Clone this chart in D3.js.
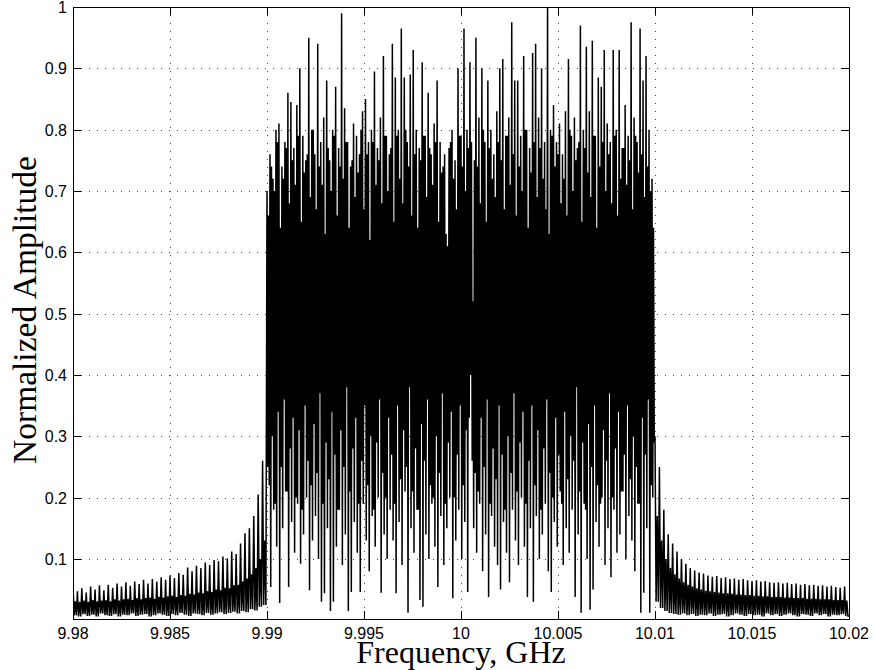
<!DOCTYPE html>
<html>
<head>
<meta charset="utf-8">
<script src="https://cdn.jsdelivr.net/npm/d3@7"></script>
<style>
  body { margin: 0; background: #fff; }
  text { fill: #000; }
</style>
</head>
<body>
<svg></svg>
<script>
// ================= DONNÉES ======================================== //
const xTicks = [9.98, 9.985, 9.99, 9.995, 10, 10.005, 10.01, 10.015, 10.02];
const xTickLabels = ["9.98", "9.985", "9.99", "9.995", "10", "10.005", "10.01", "10.015", "10.02"];
const yTicks = [0.1, 0.2, 0.3, 0.4, 0.5, 0.6, 0.7, 0.8, 0.9, 1];
const yTickLabels = ["0.1", "0.2", "0.3", "0.4", "0.5", "0.6", "0.7", "0.8", "0.9", "1"];

// bords des trois zones (GHz)
const bandEdges = [9.98, 9.99, 10.01, 10.02];

// lobes à gauche de la bande : pic, épaule, plancher par période
const leftPeaks = [0.060,0.047,0.052,0.045,0.055,0.050,0.057,0.049,0.058,0.053,
                   0.060,0.055,0.062,0.056,0.063,0.059,0.066,0.060,0.067,0.063,
                   0.070,0.066,0.073,0.069,0.077,0.074,0.086,0.080,0.089,0.085,
                   0.094,0.090,0.098,0.096,0.104,0.101,0.112,0.108,0.125,0.142,
                   0.150,0.170,0.205,0.260];
const leftShoulders = [0.031,0.030,0.032,0.030,0.033,0.031,0.032,0.033,0.031,0.034,
                       0.032,0.034,0.035,0.033,0.036,0.034,0.036,0.037,0.035,0.038,
                       0.037,0.039,0.040,0.038,0.041,0.040,0.043,0.042,0.045,0.044,
                       0.047,0.046,0.050,0.049,0.053,0.052,0.057,0.058,0.063,0.068,
                       0.075,0.085,0.100,0.130];
const leftFloors = [0.008,0.006,0.010,0.007,0.009,0.006,0.011,0.008,0.007,0.010,
                    0.006,0.009,0.008,0.011,0.007,0.009,0.010,0.006,0.008,0.011,
                    0.009,0.007,0.010,0.008,0.012,0.009,0.007,0.011,0.010,0.008,
                    0.012,0.009,0.011,0.013,0.010,0.012,0.014,0.011,0.015,0.013,
                    0.018,0.016,0.022,0.025];

// bande principale : pic, creux, sommet du massif, bas du massif par période
const bandHi = [0.70,0.76,0.72,0.80,0.81,0.74,0.78,0.86,0.845,0.77,
                0.84,0.90,0.79,0.75,0.95,0.80,0.76,0.94,0.78,0.82,
                0.88,0.75,0.80,0.87,0.77,0.99,0.835,0.78,0.74,0.81,
                0.79,0.76,0.83,0.85,0.78,0.80,0.895,0.77,0.82,0.92,
                0.79,0.76,0.94,0.885,0.80,0.965,0.885,0.78,0.89,0.93,
                0.80,0.77,0.91,0.79,0.86,0.76,0.81,0.88,0.78,0.74,
                0.63,0.77,0.80,0.75,0.90,0.79,0.965,0.80,0.91,0.52,
                0.95,0.82,0.90,0.78,0.88,0.80,0.76,0.83,0.90,0.915,
                0.79,0.82,0.975,0.88,0.88,0.79,0.92,0.80,0.77,0.925,
                0.94,0.82,0.90,0.78,1.00,0.80,0.84,0.78,0.81,0.76,
                0.83,0.915,0.79,0.82,0.77,0.97,0.80,0.935,0.83,0.945,
                0.79,0.885,0.87,0.93,0.81,0.78,0.93,0.80,0.93,0.77,
                0.84,0.79,0.975,0.82,0.78,0.965,0.88,0.92,0.80,0.72];
const bandLo = [0.25,0.054,0.18,0.12,0.028,0.15,0.21,0.054,0.16,0.11,
                0.19,0.092,0.14,0.20,0.049,0.13,0.17,0.10,0.030,0.044,
                0.15,0.015,0.030,0.12,0.18,0.09,0.14,0.015,0.046,0.16,
                0.11,0.046,0.19,0.13,0.08,0.17,0.12,0.20,0.045,0.14,
                0.10,0.18,0.13,0.044,0.16,0.09,0.21,0.012,0.15,0.11,
                0.18,0.033,0.022,0.14,0.10,0.19,0.12,0.054,0.17,0.09,
                0.15,0.20,0.036,0.13,0.18,0.10,0.16,0.046,0.40,0.15,
                0.11,0.19,0.08,0.14,0.038,0.17,0.12,0.09,0.05,0.16,
                0.11,0.062,0.18,0.13,0.09,0.20,0.12,0.038,0.15,0.030,
                0.17,0.10,0.14,0.19,0.08,0.046,0.16,0.12,0.21,0.09,
                0.15,0.11,0.18,0.038,0.14,0.012,0.19,0.10,0.017,0.05,
                0.16,0.12,0.20,0.09,0.15,0.07,0.18,0.11,0.14,0.21,
                0.10,0.17,0.13,0.08,0.19,0.012,0.045,0.15,0.012,0.20];
const bandMid = [0.66,0.74,0.70,0.78,0.64,0.72,0.77,0.68,0.75,0.71,
                 0.79,0.65,0.73,0.76,0.69,0.80,0.67,0.74,0.71,0.63,
                 0.77,0.70,0.79,0.66,0.74,0.72,0.78,0.64,0.75,0.69,
                 0.73,0.80,0.67,0.76,0.62,0.78,0.71,0.75,0.68,0.79,
                 0.70,0.77,0.65,0.79,0.72,0.68,0.80,0.74,0.66,0.76,
                 0.64,0.75,0.79,0.69,0.77,0.71,0.78,0.65,0.73,0.76,
                 0.61,0.78,0.72,0.67,0.79,0.74,0.70,0.77,0.78,0.75,
                 0.74,0.68,0.80,0.65,0.77,0.72,0.69,0.78,0.75,0.67,
                 0.79,0.71,0.76,0.66,0.74,0.70,0.80,0.64,0.73,0.78,
                 0.69,0.77,0.72,0.67,0.63,0.79,0.74,0.76,0.68,0.72,
                 0.66,0.80,0.70,0.75,0.78,0.65,0.77,0.73,0.69,0.79,
                 0.64,0.74,0.78,0.70,0.76,0.68,0.79,0.66,0.72,0.77,
                 0.71,0.75,0.67,0.79,0.73,0.76,0.69,0.74,0.70,0.64];
const bandLo2 = [0.22,0.30,0.19,0.34,0.25,0.36,0.21,0.28,0.33,0.20,
                 0.31,0.18,0.35,0.26,0.22,0.32,0.24,0.37,0.19,0.29,
                 0.23,0.34,0.27,0.18,0.31,0.25,0.38,0.21,0.28,0.33,
                 0.19,0.26,0.35,0.22,0.30,0.18,0.29,0.36,0.24,0.20,
                 0.33,0.27,0.19,0.35,0.23,0.31,0.25,0.38,0.21,0.28,
                 0.18,0.32,0.26,0.36,0.22,0.20,0.30,0.24,0.37,0.19,
                 0.29,0.34,0.20,0.27,0.35,0.22,0.31,0.33,0.26,0.24,
                 0.21,0.33,0.25,0.36,0.19,0.28,0.23,0.35,0.27,0.18,
                 0.30,0.24,0.37,0.21,0.29,0.34,0.19,0.26,0.35,0.22,
                 0.31,0.18,0.28,0.36,0.24,0.20,0.33,0.27,0.19,0.34,
                 0.23,0.30,0.26,0.38,0.21,0.29,0.18,0.32,0.25,0.35,
                 0.22,0.19,0.31,0.26,0.37,0.20,0.28,0.34,0.21,0.27,
                 0.35,0.23,0.30,0.25,0.19,0.33,0.27,0.36,0.22,0.29];

// lobes à droite de la bande
const rightPeaks = [0.300,0.250,0.180,0.140,0.125,0.112,0.100,0.092,0.085,0.081,
                    0.078,0.076,0.073,0.071,0.072,0.069,0.070,0.067,0.068,0.066,
                    0.067,0.065,0.064,0.065,0.063,0.064,0.062,0.061,0.062,0.060,
                    0.061,0.059,0.060,0.058,0.059,0.057,0.058,0.056,0.057,0.055,
                    0.056,0.054,0.053,0.055];
const rightShoulders = [0.170,0.130,0.100,0.085,0.075,0.068,0.062,0.058,0.055,0.052,
                        0.050,0.048,0.047,0.046,0.045,0.044,0.044,0.043,0.042,0.042,
                        0.041,0.041,0.040,0.040,0.039,0.039,0.038,0.038,0.038,0.037,
                        0.037,0.036,0.036,0.036,0.035,0.035,0.035,0.034,0.034,0.034,
                        0.033,0.033,0.033,0.032];
const rightFloors = [0.030,0.020,0.015,0.012,0.010,0.009,0.011,0.008,0.010,0.007,
                     0.009,0.008,0.011,0.007,0.009,0.010,0.006,0.008,0.011,0.009,
                     0.007,0.010,0.008,0.009,0.006,0.011,0.008,0.010,0.007,0.009,
                     0.011,0.008,0.006,0.010,0.009,0.007,0.011,0.008,0.010,0.006,
                     0.009,0.008,0.010,0.007];

// ================= FIGURE =================== //
const width = 875, height = 670;
const svg = d3.select('svg').attr('width', width).attr('height', height);

const x = d3.scaleLinear().domain([9.98, 10.02]).range([73, 849]);
const y = d3.scaleLinear().domain([0.002, 1]).range([619, 7]);

// Construction de la trace : chaque période visite ses valeurs dans l'ordre
const series = [];
function addSegment(f0, f1, columns) {
    const n = columns[0].length;
    const df = (f1 - f0) / n;
    const m = columns.length;
    for (let k = 0; k < n; k++) {
        columns.forEach((col, c) => series.push([f0 + k * df + c * df / m, col[k]]));
    }
}
addSegment(bandEdges[0], bandEdges[1], [leftPeaks, leftFloors, leftShoulders, leftFloors]);
addSegment(bandEdges[1], bandEdges[2], [bandHi, bandLo, bandMid, bandLo2]);
addSegment(bandEdges[2], bandEdges[3], [rightPeaks, rightFloors, rightShoulders, rightFloors]);
series.push([bandEdges[3], rightFloors[rightFloors.length - 1]]);

const x0 = x.range()[0], x1 = x.range()[1];
const yTop = y.range()[1], yBot = y.range()[0];

// Grille pointillée
const grid = svg.append('g').attr('stroke', '#000').attr('stroke-width', 1)
    .attr('stroke-dasharray', '1,7').attr('opacity', 0.7);
grid.selectAll('.gx').data(xTicks.slice(1, -1)).enter().append('line')
    .attr('x1', d => Math.round(x(d)) + 0.5).attr('x2', d => Math.round(x(d)) + 0.5)
    .attr('y1', yTop).attr('y2', yBot);
grid.selectAll('.gy').data(yTicks.slice(0, -1)).enter().append('line')
    .attr('y1', d => Math.round(y(d)) + 0.5).attr('y2', d => Math.round(y(d)) + 0.5)
    .attr('x1', x0).attr('x2', x1);

// Trace
svg.append('clipPath').attr('id', 'clip').append('rect')
    .attr('x', x0).attr('y', yTop).attr('width', x1 - x0).attr('height', yBot - yTop);

const line = d3.line().x(d => x(d[0])).y(d => y(d[1]));
svg.append('path')
    .datum(series)
    .attr('clip-path', 'url(#clip)')
    .attr('fill', 'none')
    .attr('stroke', '#000')
    .attr('stroke-width', 1.5)
    .attr('stroke-linejoin', 'miter')
    .attr('d', line);

// Axes (ticks vers l'intérieur, boîte fermée)
const tickLen = 8;
const axes = svg.append('g');
axes.append('rect').attr('x', x0 + 0.5).attr('y', yTop + 0.5)
    .attr('width', x1 - x0).attr('height', yBot - yTop)
    .attr('fill', 'none').attr('stroke', '#000').attr('stroke-width', 1);

const ticks = axes.append('g').attr('stroke', '#000').attr('stroke-width', 1);
xTicks.forEach(t => {
    const px = Math.round(x(t)) + 0.5;
    ticks.append('line').attr('x1', px).attr('x2', px).attr('y1', yBot).attr('y2', yBot - tickLen);
    ticks.append('line').attr('x1', px).attr('x2', px).attr('y1', yTop).attr('y2', yTop + tickLen);
});
yTicks.forEach(t => {
    const py = Math.round(y(t)) + 0.5;
    ticks.append('line').attr('y1', py).attr('y2', py).attr('x1', x0).attr('x2', x0 + tickLen);
    ticks.append('line').attr('y1', py).attr('y2', py).attr('x1', x1).attr('x2', x1 - tickLen);
});

const tickFont = '"Liberation Sans", Arial, Helvetica, sans-serif';
axes.selectAll('.xl').data(xTicks).enter().append('text')
    .attr('x', d => x(d)).attr('y', 639)
    .attr('text-anchor', 'middle')
    .style('font-family', tickFont).style('font-size', '16px')
    .text((d, i) => xTickLabels[i]);

axes.selectAll('.yl').data(yTicks).enter().append('text')
    .attr('x', x0 - 6).attr('y', d => y(d) + 6)
    .attr('text-anchor', 'end')
    .style('font-family', tickFont).style('font-size', '16px')
    .text((d, i) => yTickLabels[i]);

// Titres des axes
const labelFont = '"Liberation Serif", "Times New Roman", serif';
svg.append('text')
    .attr('x', (x0 + x1) / 2).attr('y', 663)
    .attr('text-anchor', 'middle')
    .style('font-family', labelFont).style('font-size', '32px')
    .text('Frequency, GHz');

svg.append('text')
    .attr('transform', `translate(36, 310) rotate(-90)`)
    .attr('text-anchor', 'middle')
    .style('font-family', labelFont).style('font-size', '33.5px')
    .text('Normalized Amplitude');
</script>
</body>
</html>
